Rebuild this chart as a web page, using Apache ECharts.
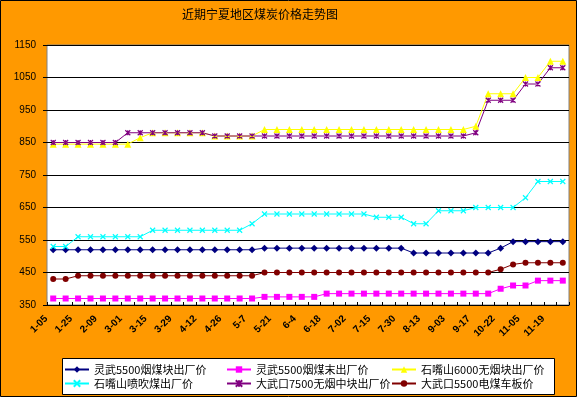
<!DOCTYPE html>
<html><head><meta charset="utf-8">
<script src="https://cdn.jsdelivr.net/npm/echarts@6/dist/echarts.min.js"></script>
<style>html,body{margin:0;padding:0;background:#fff}#c{width:582px;height:398px}</style>
</head><body><div id="c"></div>
<script>
const chartTitle = '近期宁夏地区煤炭价格走势图';
const tickLabels = ['1-05','1-25','2-09','3-01','3-15','3-29','4-12','4-26','5-7','5-21','6-4','6-18','7-02','7-15','7-30','8-13','9-03','9-17','10-22','11-05','11-19'];
const seriesNames = ['灵武5500烟煤块出厂价','灵武5500烟煤末出厂价','石嘴山6000无烟块出厂价','石嘴山喷吹煤出厂价','大武口7500无烟中块出厂价','大武口5500电煤车板价'];
const lingwuLump = [520,520,520,520,520,520,520,520,520,520,520,520,520,520,520,520,520,525,525,525,525,525,525,525,525,525,525,525,525,510,510,510,510,510,510,510,525,545,545,545,545,545];
const lingwuFines = [370,370,370,370,370,370,370,370,370,370,370,370,370,370,370,370,370,375,375,375,375,375,385,385,385,385,385,385,385,385,385,385,385,385,385,385,400,410,410,425,425,425];
const szs6000 = [845,845,845,845,845,845,845,865,880,880,880,880,880,870,870,870,870,890,890,890,890,890,890,890,890,890,890,890,890,890,890,890,890,890,900,1000,1000,1000,1050,1050,1100,1100];
const szsInjection = [530,530,560,560,560,560,560,560,580,580,580,580,580,580,580,580,600,630,630,630,630,630,630,630,630,630,620,620,620,600,600,640,640,640,650,650,650,650,680,730,730,730];
const dwk7500 = [850,850,850,850,850,850,880,880,880,880,880,880,880,870,870,870,870,870,870,870,870,870,870,870,870,870,870,870,870,870,870,870,870,870,880,980,980,980,1030,1030,1080,1080];
const dwk5500 = [430,430,440,440,440,440,440,440,440,440,440,440,440,440,440,440,440,450,450,450,450,450,450,450,450,450,450,450,450,450,450,450,450,450,450,450,460,475,480,480,480,480];

const categories = [];
for (let i = 0; i < lingwuLump.length; i++) categories.push(i % 2 === 0 ? tickLabels[i / 2] : '');

const allData = [lingwuLump, lingwuFines, szs6000, szsInjection, dwk7500, dwk5500];
const colors = ['#000080','#FF00FF','#FFFF00','#00FFFF','#800080','#800000'];
const symbols = ['diamond','rect','triangle','path://M0,0L10,10M10,0L0,10','path://M0,0L10,10M10,0L0,10M5,0L5,10','circle'];
const symSizes = [7,6,7,5,5,6];

const series = allData.map((d, i) => ({
  type: 'line', name: seriesNames[i], data: d,
  symbol: symbols[i], symbolSize: symSizes[i],
  lineStyle: { color: colors[i], width: 1 },
  itemStyle: { color: colors[i], borderColor: colors[i], borderWidth: (i === 3 || i === 4) ? 1.2 : 0 },
  animation: false
}));

const cols = [64, 226, 391];
const rows = [364, 378];
const legends = seriesNames.map((n, i) => ({
  data: [n], left: cols[i % 3], top: rows[Math.floor(i / 3)],
  itemWidth: 24, itemHeight: 8, padding: 0, itemGap: 0,
  textStyle: { fontSize: 11, color: '#000', fontFamily: 'Noto Sans CJK SC' }
}));

const chart = echarts.init(document.getElementById('c'), null, { renderer: 'canvas' });
chart.setOption({
  backgroundColor: '#fff',
  animation: false,
  title: { text: chartTitle, left: 182, top: 8, padding: 0,
    textStyle: { fontSize: 12, fontWeight: 'normal', color: '#000', fontFamily: 'Noto Sans CJK SC' } },
  graphic: [
    { type: 'rect', z: -100, shape: { x: 0.5, y: 0.5, width: 576, height: 396 }, style: { fill: '#FF9900', stroke: '#000', lineWidth: 1 } },
    { type: 'rect', z: -50, shape: { x: 62.5, y: 358.5, width: 492, height: 36 }, style: { fill: '#fff', stroke: '#000', lineWidth: 1 } }
  ],
  legend: legends,
  grid: { left: 47, right: 13, top: 45, height: 260, show: true, backgroundColor: '#fff', borderColor: '#808080', borderWidth: 1 },
  xAxis: {
    type: 'category', data: categories, boundaryGap: true,
    axisLine: { lineStyle: { color: '#000', width: 1 } },
    axisTick: { show: true, inside: true, length: 3, interval: 0, lineStyle: { color: '#000' } },
    axisLabel: { interval: 0, rotate: 45, fontSize: 10, fontWeight: 'bold', color: '#000', margin: 5, padding: [0, 10, 0, 0], fontFamily: 'Liberation Sans' }
  },
  yAxis: {
    type: 'value', min: 350, max: 1150, interval: 100,
    axisLine: { show: false },
    axisTick: { show: true, length: 4, lineStyle: { color: '#000' } },
    axisLabel: { fontSize: 10, color: '#000', margin: 11, fontFamily: 'Liberation Sans', formatter: v => String(v) },
    splitLine: { lineStyle: { color: '#000', width: 1 } }
  },
  series: series
});
</script>
</body></html>
